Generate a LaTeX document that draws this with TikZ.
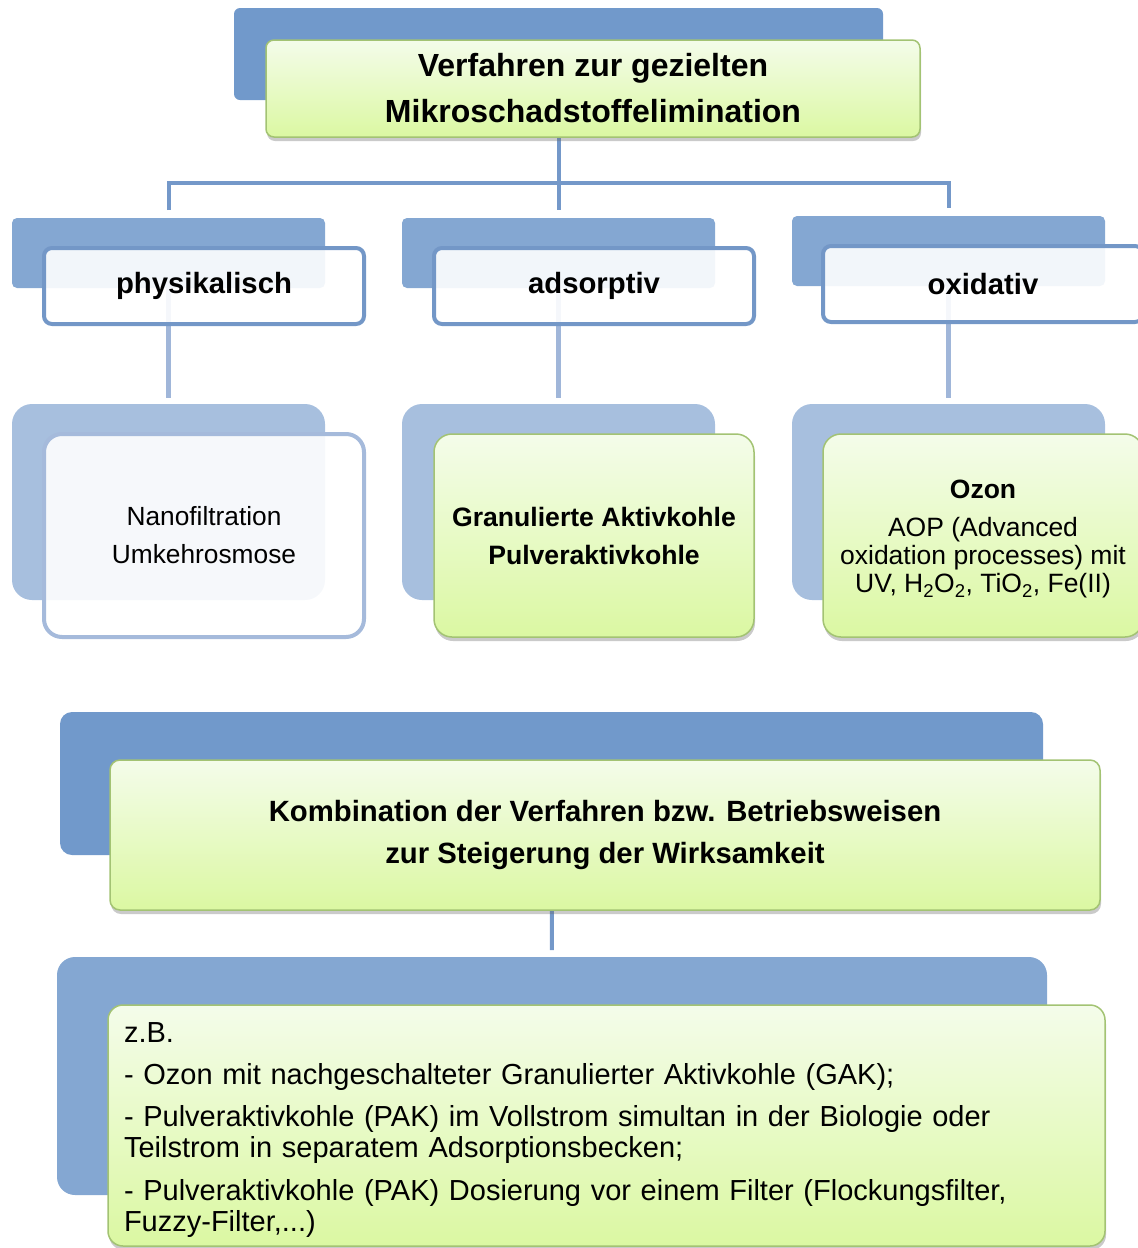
\documentclass[tikz,border=0pt]{standalone}
\usepackage{fontspec}
\setmainfont{Liberation Sans}
\usetikzlibrary{shadows}
\definecolor{backA}{HTML}{7199CB}
\definecolor{backB}{HTML}{84A7D2}
\definecolor{backC}{HTML}{A7BFDE}
\definecolor{lineA}{HTML}{7498C9}
\definecolor{lineB}{HTML}{A0B6D9}
\definecolor{bordA}{HTML}{7397C7}
\definecolor{bordB}{HTML}{A5BADB}
\definecolor{grnTop}{HTML}{F4FCEA}
\definecolor{grnBot}{HTML}{DBF8A2}
\definecolor{grnBord}{HTML}{A3C373}
\begin{document}
\begin{tikzpicture}[x=1pt,y=-1pt,
  base/.style={rectangle, anchor=north west, inner sep=0pt, outer sep=0pt, align=center},
  backbox/.style={base, draw=none},
  greenbox/.style={base, draw=grnBord, line width=1.5pt, top color=grnTop, bottom color=grnBot,
     drop shadow={shadow xshift=1pt, shadow yshift=-4pt, opacity=0.35, fill=black!60}},
  whitebox/.style={base, fill=white, fill opacity=0.9, draw opacity=1, text opacity=1, line width=4pt},
  conA/.style={draw=lineA, line width=4pt},
  conB/.style={draw=lineB, line width=5pt},
]
\useasboundingbox (0,0) rectangle (1138,1248);
\clip (0,0) rectangle (1138,1248);

% back rectangles
\node[backbox, fill=backA, rounded corners=6pt, minimum width=649pt, minimum height=92pt] (tb) at (234,8) {};
\node[backbox, fill=backB, rounded corners=5pt, minimum width=313pt, minimum height=70pt] (p2b) at (12,218) {};
\node[backbox, fill=backB, rounded corners=5pt, minimum width=313pt, minimum height=70pt] (a2b) at (402,218) {};
\node[backbox, fill=backB, rounded corners=5pt, minimum width=313pt, minimum height=70pt] (o2b) at (792,216) {};
\node[backbox, fill=backC, rounded corners=20pt, minimum width=313pt, minimum height=196pt] (p3b) at (12,404) {};
\node[backbox, fill=backC, rounded corners=20pt, minimum width=313pt, minimum height=196pt] (a3b) at (402,404) {};
\node[backbox, fill=backC, rounded corners=20pt, minimum width=313pt, minimum height=196pt] (o3b) at (792,404) {};
\node[backbox, fill=backA, rounded corners=12pt, minimum width=983pt, minimum height=143pt] (kb) at (60,712) {};
\node[backbox, fill=backB, rounded corners=18pt, minimum width=990pt, minimum height=238pt] (lb) at (57,957) {};

% connectors
\coordinate (bus) at (557,183);
\draw[conA, shorten >=8pt] (tb.south) -- (a2b.north);
\draw[conA, shorten <=8pt, shorten >=8pt] (p2b.north) -- (p2b.north |- bus) -- (o2b.north |- bus) -- (o2b.north);
\draw[conB, shorten >=6pt] (p2b.south) -- (p3b.north);
\draw[conB, shorten >=6pt] (a2b.south) -- (a3b.north);
\draw[conB, shorten >=6pt] (o2b.south) -- (o3b.north);
\draw[conA, shorten >=7pt] (kb.south) -- (lb.north);

% front boxes
\node[greenbox, rounded corners=8pt, minimum width=654pt, minimum height=97pt,
  font=\bfseries\fontsize{32}{46}\selectfont] (top) at (266,40)
  {Verfahren zur gezielten\\Mikroschadstoffelimination};

\node[whitebox, draw=bordA, rounded corners=8pt, minimum width=320pt, minimum height=76pt,
  font=\bfseries\fontsize{29.3}{34}\selectfont] (p2) at (44,248) {\raisebox{-2pt}{physikalisch}};
\node[whitebox, draw=bordA, rounded corners=8pt, minimum width=320pt, minimum height=76pt,
  font=\bfseries\fontsize{29.3}{34}\selectfont] (a2) at (434,248) {\raisebox{-2pt}{adsorptiv}};
\node[whitebox, draw=bordA, rounded corners=8pt, minimum width=320pt, minimum height=76pt,
  font=\bfseries\fontsize{29.3}{34}\selectfont] (o2) at (823,246) {oxidativ};

\node[whitebox, draw=bordB, rounded corners=18pt, minimum width=320pt, minimum height=203pt,
  font=\fontsize{26.3}{38}\selectfont] (p3) at (44,434) {Nanofiltration\\Umkehrosmose};
\node[greenbox, rounded corners=18pt, minimum width=320pt, minimum height=203pt,
  font=\bfseries\fontsize{26.6}{38}\selectfont] (a3) at (434,434) {Granulierte Aktivkohle\\Pulveraktivkohle};
\node[greenbox, rounded corners=18pt, minimum width=320pt, minimum height=203pt,
  font=\fontsize{26.5}{28}\selectfont] (o3) at (823,434)
  {\rule{0pt}{26pt}{\bfseries Ozon}\\[10pt]AOP (Advanced\\oxidation processes) mit\\UV, H\textsubscript{2}O\textsubscript{2}, TiO\textsubscript{2}, Fe(II)};

\node[greenbox, rounded corners=10pt, minimum width=990pt, minimum height=150pt,
  font=\bfseries\fontsize{29.3}{42}\selectfont] (k) at (110,760)
  {Kombination der Verfahren bzw. Betriebsweisen\\zur Steigerung der Wirksamkeit};

\node[greenbox, rounded corners=15pt, minimum width=997pt, minimum height=241pt,
  inner xsep=16pt, text width=965pt, align=left,
  font=\fontsize{29}{31}\selectfont] (l) at (108,1005)
  {\rule{0pt}{29pt}z.B.\\[11pt]
   - Ozon mit nachgeschalteter Granulierter Aktivkohle (GAK);\\[11pt]
   - Pulveraktivkohle (PAK) im Vollstrom simultan in der Biologie oder\\
   Teilstrom in separatem Adsorptionsbecken;\\[12pt]
   - Pulveraktivkohle (PAK) Dosierung vor einem Filter (Flockungsfilter,\\
   Fuzzy-Filter,...)};
\end{tikzpicture}
\end{document}
